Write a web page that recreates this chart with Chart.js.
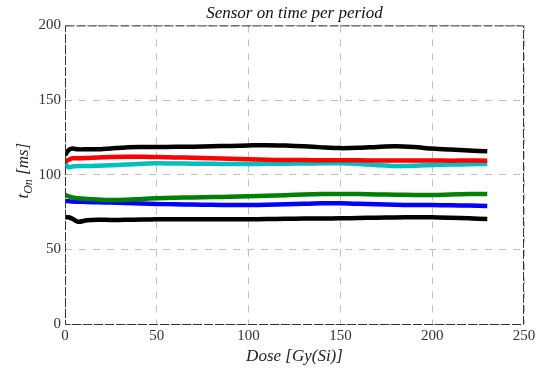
<!DOCTYPE html>
<html>
<head>
<meta charset="utf-8">
<script src="https://cdn.jsdelivr.net/npm/chart.js@4/dist/chart.umd.min.js"></script>
<style>
html,body{margin:0;padding:0;background:#fff;}
#wrap{width:542px;height:371px;position:relative;}
</style>
</head>
<body>
<div id="wrap"><canvas id="c" width="542" height="371"></canvas></div>
<script>
const dose = [0, 2, 4, 7, 12, 18, 25, 33, 42, 50, 60, 70, 80, 90, 100, 110, 120, 130, 140, 150, 160, 170, 180, 190, 200, 210, 220, 230];
const blackHigh = [113, 116.5, 117.5, 117, 117, 117, 117.5, 118.3, 118.5, 118.5, 118.7, 118.8, 119, 119.3, 119.6, 119.8, 119.5, 119, 118.3, 117.8, 118, 118.6, 119, 118.5, 117.5, 116.8, 116.2, 115.7];
const red = [108.7, 110, 111, 111, 111.2, 111.5, 111.8, 112, 112, 111.8, 111.6, 111.3, 111, 110.7, 110.3, 110, 109.8, 109.8, 109.7, 109.6, 109.6, 109.5, 109.5, 109.5, 109.5, 109.4, 109.5, 109.4];
const cyan = [107.6, 105, 105.5, 105.8, 105.8, 106, 106.3, 106.8, 107.3, 107.6, 107.5, 107.4, 107.3, 107.2, 107.2, 107.3, 107.4, 107.5, 107.6, 107.6, 107.2, 106.4, 105.8, 106, 106.5, 106.8, 107, 107.2];
const green = [86.4, 85.5, 84.8, 84.2, 83.8, 83.4, 83, 83.2, 83.8, 84.2, 84.5, 84.8, 85, 85.2, 85.5, 85.9, 86.3, 86.7, 87, 87.1, 87, 86.8, 86.6, 86.4, 86.4, 86.7, 87, 87.1];
const blue = [82.4, 82.2, 82, 81.9, 81.7, 81.5, 81.3, 81, 80.7, 80.4, 80.2, 80, 79.8, 79.7, 79.7, 79.9, 80.2, 80.5, 80.8, 80.8, 80.5, 80.2, 79.9, 79.7, 79.7, 79.5, 79.3, 79];
const blackLow = [71.5, 71.5, 70.5, 68.5, 69.5, 69.8, 69.7, 69.8, 70, 70.1, 70.1, 70.1, 70.1, 70.1, 70.1, 70.3, 70.5, 70.6, 70.7, 70.8, 71, 71.2, 71.4, 71.5, 71.5, 71.2, 70.8, 70.3];
const xTicks = [0, 50, 100, 150, 200, 250];
const yTicks = [0, 50, 100, 150, 200];

const series = [
  {name: 'black high', values: blackHigh, color: '#000000'},
  {name: 'red', values: red, color: '#ff0000'},
  {name: 'cyan', values: cyan, color: '#00bfbf'},
  {name: 'green', values: green, color: '#008000'},
  {name: 'blue', values: blue, color: '#0000ff'},
  {name: 'black low', values: blackLow, color: '#000000'}
];

const SERIF = '"Liberation Serif", "DejaVu Serif", serif';

const frame = {
  id: 'frame',
  afterDatasetsDraw(chart) {
    const a = chart.chartArea, ctx = chart.ctx;
    ctx.save();
    ctx.strokeStyle = '#333';
    ctx.lineWidth = 1;
    ctx.setLineDash([9, 2]);
    ctx.strokeRect(a.left + 0.5, a.top + 0.5, a.right - a.left - 1, a.bottom - a.top);
    ctx.restore();
  },
  afterDraw(chart) {
    const a = chart.chartArea, ctx = chart.ctx;
    ctx.save();
    ctx.fillStyle = '#222';
    ctx.translate(24, (a.top + a.bottom) / 2 - 4);
    ctx.rotate(-Math.PI / 2);
    ctx.textBaseline = 'middle';
    const big = 'italic 17px ' + SERIF, small = 'italic 12px ' + SERIF;
    ctx.font = big; const w1 = ctx.measureText('t').width;
    ctx.font = small; const w2 = ctx.measureText('On').width;
    ctx.font = big; const w3 = ctx.measureText(' [ms]').width;
    let x = -(w1 + w2 + w3) / 2;
    ctx.font = big; ctx.fillText('t', x, 0); x += w1;
    ctx.font = small; ctx.fillText('On', x, 5); x += w2;
    ctx.font = big; ctx.fillText(' [ms]', x, 0);
    ctx.restore();
  }
};

new Chart(document.getElementById('c'), {
  type: 'line',
  data: {
    datasets: series.map(s => ({
      label: s.name,
      data: dose.map((d, i) => ({x: d, y: s.values[i]})),
      borderColor: s.color,
      backgroundColor: s.color,
      borderWidth: 4.5,
      pointRadius: 0,
      tension: 0.3,
      fill: false
    }))
  },
  options: {
    responsive: false,
    animation: false,
    layout: {padding: {left: 0, right: 18, top: 0, bottom: 0}},
    plugins: {
      legend: {display: false},
      tooltip: {enabled: false},
      title: {
        display: true,
        text: 'Sensor on time per period',
        fullSize: false,
        color: '#111',
        font: {family: SERIF, size: 17, style: 'italic', weight: 'normal', lineHeight: 1.2},
        padding: {top: 3, bottom: 2}
      }
    },
    scales: {
      x: {
        type: 'linear',
        min: 0, max: 250,
        afterBuildTicks(scale) { scale.ticks = xTicks.map(v => ({value: v})); },
        afterFit(scale) { scale.height = 47; },
        grid: {color: '#c0c0c0', lineWidth: 1, drawTicks: false},
        border: {display: false, dash: [7, 7]},
        ticks: {color: '#333', padding: 3, font: {family: SERIF, size: 15}, maxRotation: 0},
        title: {
          display: true,
          text: 'Dose [Gy(Si)]',
          color: '#222',
          font: {family: SERIF, size: 17, style: 'italic'},
          padding: {top: 0, bottom: 4}
        }
      },
      y: {
        min: 0, max: 200,
        afterBuildTicks(scale) { scale.ticks = yTicks.map(v => ({value: v})); },
        afterFit(scale) { scale.width = 65; },
        grid: {color: '#c0c0c0', lineWidth: 1, drawTicks: false},
        border: {display: false, dash: [7, 7]},
        ticks: {color: '#333', padding: 4, font: {family: SERIF, size: 15}}
      }
    }
  },
  plugins: [frame]
});
</script>
</body>
</html>
